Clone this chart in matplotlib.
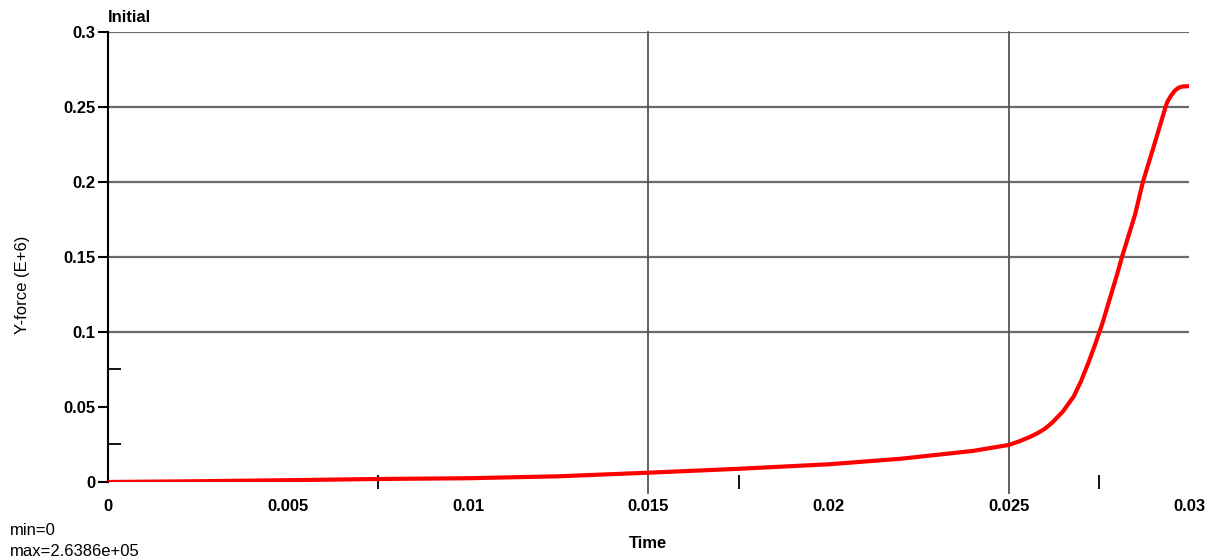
import matplotlib
matplotlib.use("Agg")
import matplotlib.pyplot as plt
import numpy as np

plt.rcParams['font.family'] = ['Liberation Sans', 'DejaVu Sans']

# Y-force history (E+6) against time
time = [0.0, 0.0025, 0.005, 0.0075, 0.01, 0.0125, 0.015, 0.0175, 0.02, 0.022,
        0.024, 0.025, 0.0253, 0.0256, 0.0258, 0.026, 0.0262, 0.0265, 0.0268,
        0.027, 0.0272, 0.0274, 0.0276, 0.028, 0.02814, 0.0285, 0.02872, 0.029,
        0.0292, 0.02935, 0.0294, 0.0295, 0.0296, 0.0297, 0.0298, 0.03]
yforce = [0.0, 0.0005, 0.0012, 0.002, 0.0025, 0.0038, 0.0062, 0.0088, 0.0118, 0.0155,
          0.0207, 0.0247, 0.0272, 0.0302, 0.0326, 0.0355, 0.0395, 0.047, 0.057,
          0.067, 0.079, 0.092, 0.106, 0.138, 0.15, 0.178, 0.2, 0.222,
          0.238, 0.25, 0.2535, 0.2575, 0.2607, 0.2627, 0.2636, 0.2639]

xticks = [0, 0.005, 0.01, 0.015, 0.02, 0.025, 0.03]
xtick_labels = ['0', '0.005', '0.01', '0.015', '0.02', '0.025', '0.03']
yticks = [0, 0.05, 0.1, 0.15, 0.2, 0.25, 0.3]
ytick_labels = ['0', '0.05', '0.1', '0.15', '0.2', '0.25', '0.3']
hgrid = [0.1, 0.15, 0.2, 0.25, 0.3]
vgrid = [0.015, 0.025]
xminor = [0.0075, 0.0175, 0.0275]
yminor = [0.025, 0.075]

fig = plt.figure(figsize=(12.16, 5.6), dpi=100)
ax = fig.add_axes([0.0888, 0.1393, 0.889, 0.8036])

for y in hgrid:
    ax.axhline(y, color='#6a6a6a', lw=1.6, zorder=1)
for x in vgrid:
    ax.axvline(x, ymin=-0.025, ymax=1, color='#555555', lw=1.3, zorder=1, clip_on=False)

ax.plot(time, yforce, color='red', lw=3, solid_capstyle='butt',
        solid_joinstyle='round', zorder=3)

ax.set_xlim(0, 0.03)
ax.set_ylim(0, 0.3)
for side in ['top', 'right', 'bottom']:
    ax.spines[side].set_visible(False)
ax.spines['left'].set_linewidth(1.5)

ax.set_xticks(xticks)
ax.set_xticklabels(xtick_labels, fontsize=12, fontweight='bold')
ax.set_yticks(yticks)
ax.set_yticklabels(ytick_labels, fontsize=12, fontweight='bold')
ax.tick_params(axis='x', length=0, pad=12)
ax.tick_params(axis='y', direction='out', length=7, width=1.5, pad=2)
ax.set_xticks(xminor, minor=True)
ax.set_yticks(yminor, minor=True)
ax.tick_params(axis='x', which='minor', direction='inout', length=10, width=1.3)
ax.tick_params(axis='y', which='minor', direction='in', length=9, width=1.3)

ax.set_xlabel('Time', fontsize=12, fontweight='bold', labelpad=16)
ax.set_ylabel('Y-force (E+6)', fontsize=12)
ax.yaxis.set_label_coords(-0.072, 0.438)

fig.text(0.0888, 0.96, 'Initial', fontsize=12, fontweight='bold', ha='left', va='baseline')
fig.text(0.008, 0.045, 'min=0', fontsize=12, ha='left', va='baseline')
fig.text(0.008, 0.008, 'max=2.6386e+05', fontsize=12, ha='left', va='baseline')

fig.savefig('out.png', dpi=100)
